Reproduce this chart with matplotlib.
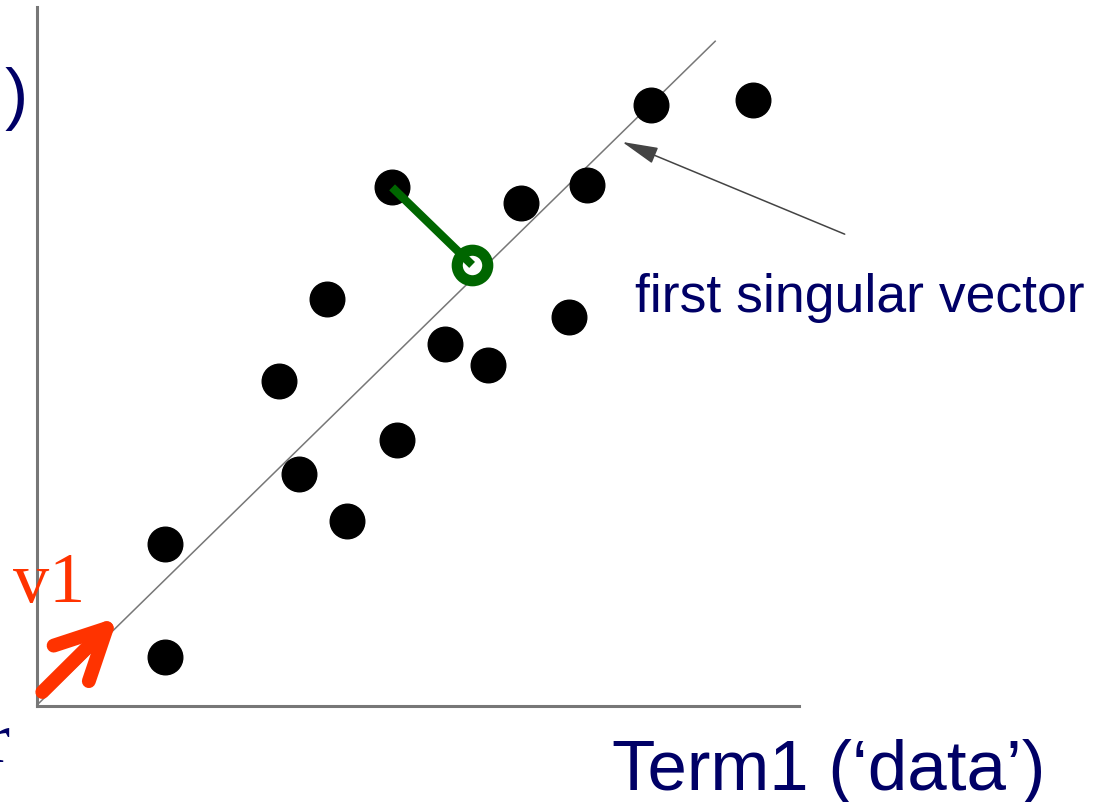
import matplotlib.pyplot as plt
from matplotlib.patches import FancyArrowPatch

# document points (axis units 0..10 on both axes)
doc_x = [1.68, 1.68, 3.18, 3.44, 3.81, 4.07, 4.66, 4.72, 5.35, 5.92, 6.35, 6.98, 7.22, 8.06, 9.40]
doc_y = [2.32, 0.70, 4.65, 3.32, 5.82, 2.65, 7.42, 3.81, 5.18, 4.88, 7.20, 5.57, 7.45, 8.60, 8.67]

# first singular vector direction line
sv_x = [0.0, 8.90]
sv_y = [0.014, 9.51]

# v1 arrow (tail, head)
v1_tail = (0.07, 0.20)
v1_head = (1.06, 1.27)

# projection of one point onto the line
proj_from = (4.66, 7.42)
proj_to = (5.71, 6.31)

# annotation arrow for the label
label_tip = (7.68, 8.07)
label_tail = (10.60, 6.75)

NAVY = '#000066'
RED = '#ff3300'
GREEN = '#006600'
GREY = '#777777'

W, H = 1098, 803
fig = plt.figure(figsize=(W / 100, H / 100), dpi=100)
ax = fig.add_axes([37 / W, 1 - 707 / H, (799 - 37) / W, (707 - 8) / H])
ax.set_xlim(0, 10)
ax.set_ylim(0, 10)
for side in ['top', 'right']:
    ax.spines[side].set_visible(False)
for side in ['left', 'bottom']:
    ax.spines[side].set_color(GREY)
    ax.spines[side].set_linewidth(2.2)
ax.set_xticks([])
ax.set_yticks([])


def px(x, y):
    # pixel position -> figure fraction, for the text labels
    return x / W, 1 - y / H


ax.plot(sv_x, sv_y, color=GREY, lw=1.1, zorder=1, clip_on=False)
ax.scatter(doc_x, doc_y, s=620, color='black', zorder=3)

# green projection
ax.plot(proj_to[0], proj_to[1], marker='o', ms=22, mew=8, mfc='white', mec=GREEN, zorder=4)
ax.plot([proj_from[0], proj_to[0]], [proj_from[1], proj_to[1]], color=GREEN, lw=6,
        solid_capstyle='butt', zorder=5)

# red v1 arrow
arr = FancyArrowPatch(v1_tail, v1_head, arrowstyle='->,head_length=0.9,head_width=0.45',
                      mutation_scale=40, lw=10, color=RED, capstyle='round',
                      joinstyle='round', shrinkA=0, shrinkB=0, zorder=6, clip_on=False)
ax.add_patch(arr)

# pointer to the line
ax.annotate('', xy=label_tip, xytext=label_tail, annotation_clip=False,
            arrowprops=dict(arrowstyle='-|>,head_length=1.5,head_width=0.35',
                            mutation_scale=15, lw=1.1, color='#444444',
                            shrinkA=0, shrinkB=0))

fig.text(*px(635, 312), 'first singular vector', color=NAVY, fontsize=38.5,
         family='Liberation Sans', va='baseline', ha='left')
fig.text(*px(612, 790), 'Term1 (\u2018data\u2019)', color=NAVY, fontsize=51,
         family='Liberation Sans', va='baseline', ha='left')
fig.text(*px(13, 602), 'v1', color=RED, fontsize=52,
         family='Liberation Serif', va='baseline', ha='left')
fig.text(*px(28, 117), ')', color=NAVY, fontsize=50,
         family='Liberation Sans', va='baseline', ha='right')
fig.text(*px(10, 762), 'r', color=NAVY, fontsize=52,
         family='Liberation Serif', va='baseline', ha='right')

fig.savefig('out.png', dpi=100)
